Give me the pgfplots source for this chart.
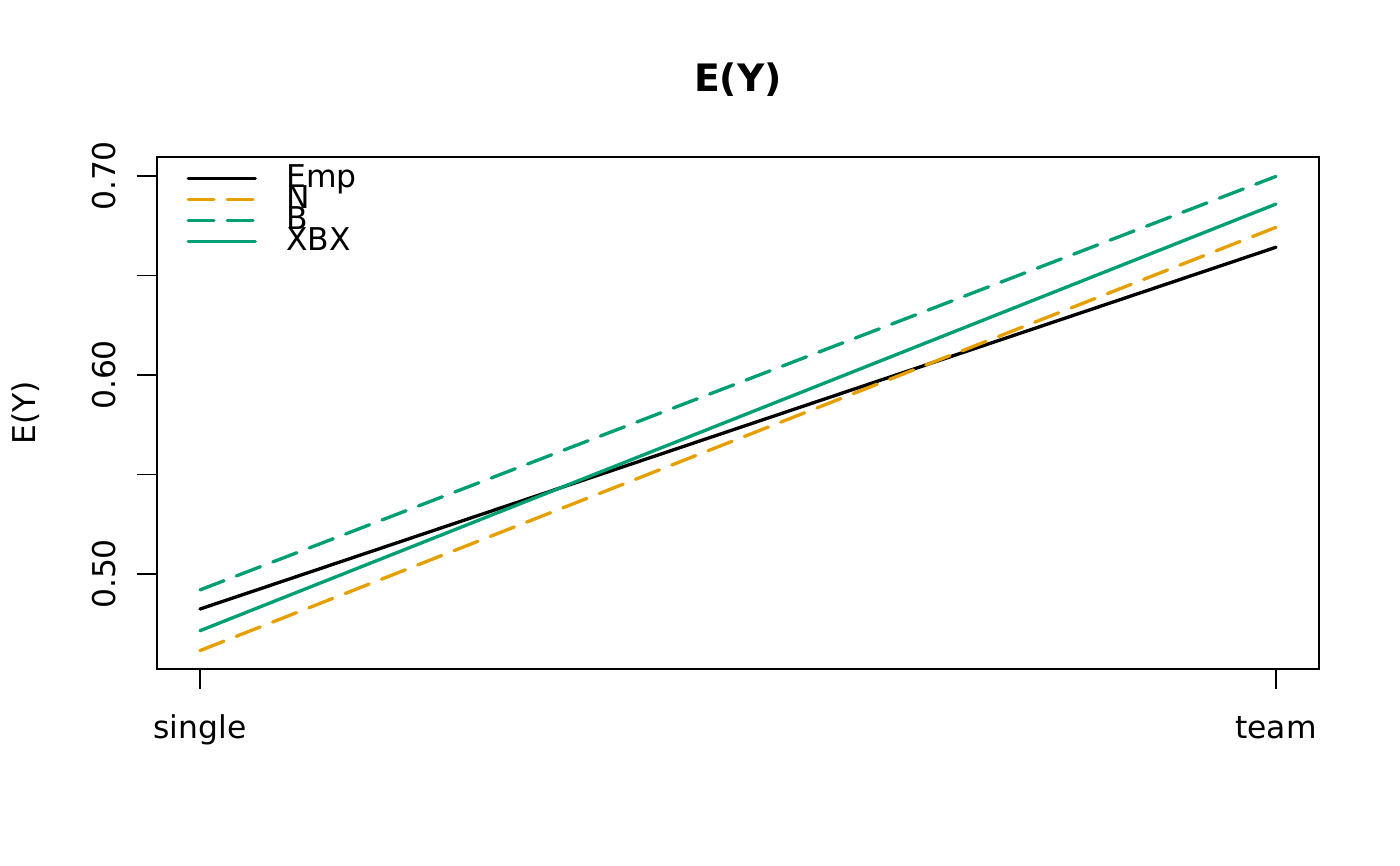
\documentclass[border=0pt]{standalone}
\usepackage{fontspec}
\setmainfont{DejaVu Sans}
\usepackage{pgfplots}
\pgfplotsset{compat=1.18}
\definecolor{rorange}{HTML}{E69F00}
\definecolor{rgreen}{HTML}{009E73}
\begin{document}
\begin{tikzpicture}[font=\fontsize{11.3bp}{13.6bp}\selectfont]
\useasboundingbox (0,0) rectangle (504bp,311.76bp);
\begin{axis}[
  at={(56.52bp,70.92bp)}, anchor=south west,
  scale only axis, width=418.32bp, height=184.32bp,
  xmin=-0.04, xmax=1.04, ymin=0.45226, ymax=0.70955,
  xtick={0,1}, xticklabels={single,team},
  ytick={0.50,0.55,0.60,0.65,0.70}, yticklabels={0.50,,0.60,,0.70},
  tick align=outside, tick pos=left,
  major tick length=7.2bp,
  axis line style={line width=0.7bp},
  every tick/.style={line width=0.5bp, black},
  xticklabel style={anchor=base, yshift=-17.7bp},
  yticklabel style={xshift=-7.9bp, rotate=90, anchor=base},
  ylabel={E(Y)},
  ylabel style={at={([xshift=-43.9bp]axis description cs:0,0.5)}, anchor=base},
  title={E(Y)},
  title style={at={(axis description cs:0.5,1)}, anchor=base, yshift=17.6bp, font=\fontsize{13.6bp}{16bp}\selectfont\bfseries},
  legend image code/.code={\draw[#1, line cap=round] (0bp,0bp) -- (24.1bp,0bp);},
  legend style={at={(axis description cs:0.0255,0.979)}, anchor=north west, draw=none, fill=none,
    inner sep=0pt, outer sep=0pt, row sep=0pt, column sep=10.6bp,
    nodes={inner sep=0pt, outer sep=0pt, text height=7.18bp, text depth=0.38bp, anchor=west}},
  legend cell align=left,
]
\addplot[black, line width=1.2bp, line cap=round] coordinates {(0,0.4824) (1,0.6642)};
\addlegendentry{Emp}
\addplot[rorange, line width=1.2bp, line cap=round, dash pattern=on 9.24bp off 4.8bp] coordinates {(0,0.4615) (1,0.6742)};
\addlegendentry{N}
\addplot[rgreen, line width=1.2bp, line cap=round, dash pattern=on 9.24bp off 4.8bp] coordinates {(0,0.4920) (1,0.6998)};
\addlegendentry{B}
\addplot[rgreen, line width=1.2bp, line cap=round] coordinates {(0,0.4715) (1,0.6859)};
\addlegendentry{XBX}
\end{axis}
\end{tikzpicture}
\end{document}
